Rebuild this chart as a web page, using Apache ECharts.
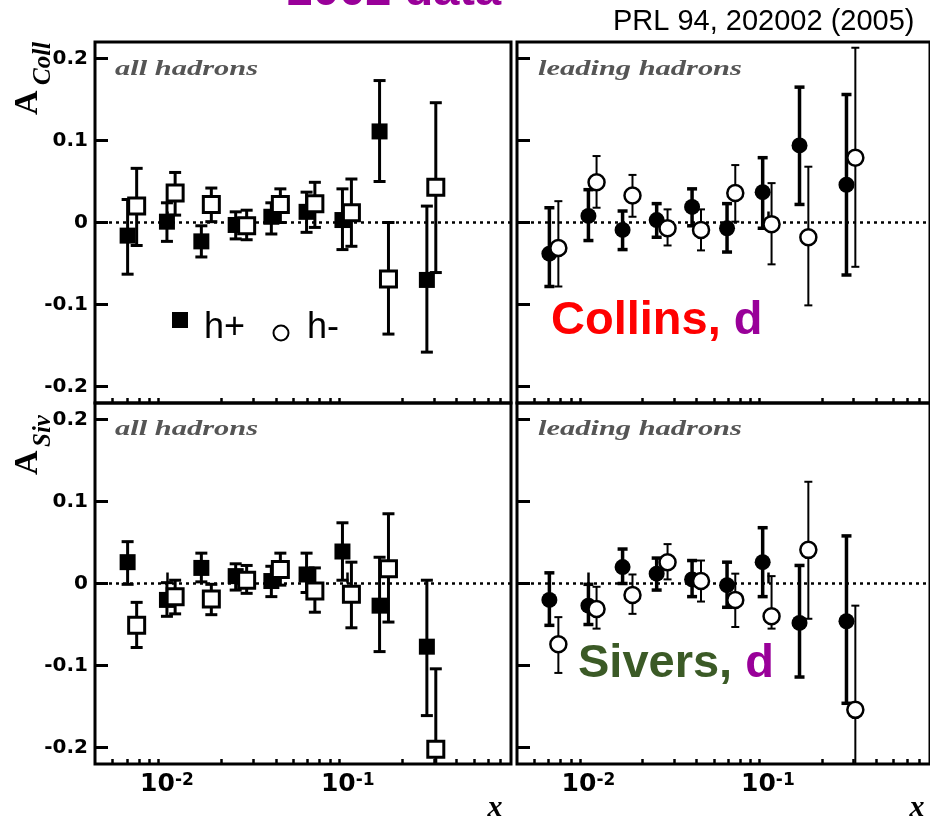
<!DOCTYPE html>
<html>
<head>
<meta charset="utf-8">
<script src="https://cdn.jsdelivr.net/npm/echarts@6/dist/echarts.min.js"></script>
<style>
  html, body { margin: 0; padding: 0; background: #fff; }
  #chart { width: 930px; height: 823px; }
</style>
</head>
<body>
<div id="chart"></div>
<script>
// x positions (bin centres) for h+ and h- points
const xPlus  = [0.00606, 0.0100, 0.0155, 0.0240, 0.0378, 0.0592, 0.0935, 0.150, 0.274];
const xMinus = [0.00680, 0.0111, 0.0176, 0.0276, 0.0424, 0.0658, 0.1048, 0.168, 0.307];

const yTicks = [-0.2, -0.1, 0, 0.1, 0.2];
const xMajor = [0.01, 0.1];
const xMinor = [0.005, 0.006, 0.007, 0.008, 0.009, 0.02, 0.03, 0.04, 0.05, 0.06, 0.07, 0.08, 0.09,
                0.2, 0.3, 0.4, 0.5, 0.6, 0.7];

// Collins, all hadrons
const collAllPos   = [-0.016, 0.001, -0.023, -0.003, 0.007, 0.013, 0.003, 0.111, -0.070];
const collAllPosHi = [0.028, 0.024, -0.004, 0.013, 0.024, 0.037, 0.041, 0.173, 0.020];
const collAllPosLo = [-0.063, -0.023, -0.042, -0.020, -0.014, -0.012, -0.033, 0.050, -0.158];
const collAllNeg   = [0.020, 0.036, 0.022, -0.004, 0.022, 0.023, 0.012, -0.069, 0.043];
const collAllNegHi = [0.066, 0.061, 0.042, 0.015, 0.041, 0.049, 0.053, 0.000, 0.146];
const collAllNegLo = [-0.028, 0.009, 0.001, -0.021, 0.000, -0.006, -0.029, -0.136, -0.061];

// Collins, leading hadrons
const collLeadPos   = [-0.038, 0.008, -0.009, 0.003, 0.019, -0.007, 0.037, 0.094, 0.046];
const collLeadPosHi = [0.018, 0.040, 0.014, 0.023, 0.041, 0.023, 0.079, 0.165, 0.156];
const collLeadPosLo = [-0.078, -0.022, -0.033, -0.018, -0.004, -0.036, -0.007, 0.022, -0.064];
const collLeadNeg   = [-0.031, 0.049, 0.033, -0.007, -0.009, 0.036, -0.002, -0.018, 0.079];
const collLeadNegHi = [0.026, 0.081, 0.058, 0.016, 0.016, 0.070, 0.048, 0.068, 0.213];
const collLeadNegLo = [-0.078, 0.018, 0.007, -0.028, -0.034, 0.001, -0.051, -0.101, -0.054];

// Sivers, all hadrons
const sivAllPos   = [0.026, -0.020, 0.019, 0.009, 0.003, 0.011, 0.039, -0.027, -0.077];
const sivAllPosHi = [0.051, 0.001, 0.037, 0.024, 0.021, 0.037, 0.074, 0.032, 0.004];
const sivAllPosLo = [-0.001, -0.040, 0.002, -0.008, -0.016, -0.011, 0.004, -0.083, -0.161];
const sivAllNeg   = [-0.051, -0.016, -0.019, 0.004, 0.017, -0.009, -0.013, 0.018, -0.202];
const sivAllNegHi = [-0.023, 0.004, -0.001, 0.022, 0.037, 0.019, 0.026, 0.085, -0.104];
const sivAllNegLo = [-0.078, -0.037, -0.038, -0.012, -0.002, -0.035, -0.054, -0.047, -0.300];

// Sivers, leading hadrons
const sivLeadPos   = [-0.020, -0.027, 0.020, 0.012, 0.005, -0.002, 0.026, -0.048, -0.046];
const sivLeadPosHi = [0.013, -0.001, 0.042, 0.031, 0.028, 0.026, 0.068, 0.022, 0.058];
const sivLeadPosLo = [-0.051, -0.050, 0.000, -0.008, -0.016, -0.029, -0.016, -0.114, -0.146];
const sivLeadNeg   = [-0.074, -0.031, -0.014, 0.026, 0.003, -0.020, -0.040, 0.041, -0.154];
const sivLeadNegHi = [-0.041, -0.004, 0.011, 0.048, 0.028, 0.012, 0.009, 0.124, -0.027];
const sivLeadNegLo = [-0.109, -0.055, -0.037, 0.005, -0.022, -0.053, -0.055, -0.043, -0.282];

const TICK_FONT = 'DejaVu Sans';

const grids = [
  { left: 95,  top: 42,  width: 416, height: 361 },
  { left: 517, top: 42,  right: -4,  height: 361 },
  { left: 95,  top: 403, width: 416, height: 361 },
  { left: 517, top: 403, right: -4,  height: 361 }
].map(g => Object.assign({ show: true, borderColor: '#000', borderWidth: 3, backgroundColor: 'transparent' }, g));

const xAxes = [];
const yAxes = [];
grids.forEach((g, i) => {
  const bottom = i >= 2;
  const left = i % 2 === 0;
  const base = {
    type: 'log', logBase: 10, gridIndex: i, min: 0.004, max: 0.8, position: 'bottom',
    axisLine: { show: false }, splitLine: { show: false }
  };
  xAxes.push(Object.assign({}, base, {
    axisTick: { inside: true, length: 11, customValues: xMajor, lineStyle: { color: '#000', width: 2.5 } },
    axisLabel: {
      show: bottom, customValues: xMajor, margin: 8,
      formatter: v => '{b|10}{s|' + Math.round(Math.log10(v)) + '}',
      rich: {
        b: { fontFamily: TICK_FONT, fontWeight: 'bold', fontSize: 25, color: '#000' },
        s: { fontFamily: TICK_FONT, fontWeight: 'bold', fontSize: 17, color: '#000', verticalAlign: 'top' }
      }
    }
  }));
  xAxes.push(Object.assign({}, base, {
    axisTick: { inside: true, length: 5, customValues: xMinor, lineStyle: { color: '#000', width: 2.5 } },
    axisLabel: { show: false }
  }));
  yAxes.push({
    type: 'value', gridIndex: i, min: -0.22, max: 0.22,
    axisLine: { show: false }, splitLine: { show: false },
    axisTick: { inside: true, length: 13, customValues: yTicks, lineStyle: { color: '#000', width: 3 } },
    axisLabel: {
      show: left, customValues: yTicks, margin: 7,
      formatter: v => (v === 0 ? '0' : String(v)),
      fontFamily: TICK_FONT, fontWeight: 'bold', fontSize: 20, color: '#000'
    }
  });
});

function errBars(gi, xs, lo, hi, width, capW, z) {
  return {
    type: 'custom', xAxisIndex: gi * 2, yAxisIndex: gi, clip: true, z: z, silent: true,
    data: xs.map((x, i) => [x, lo[i], hi[i]]),
    encode: { x: 0, y: [1, 2] },
    renderItem: (params, api) => {
      const t = api.coord([api.value(0), api.value(2)]);
      const b = api.coord([api.value(0), api.value(1)]);
      const st = { stroke: '#000', lineWidth: width };
      return {
        type: 'group',
        children: [
          { type: 'line', shape: { x1: t[0], y1: t[1], x2: b[0], y2: b[1] }, style: st },
          { type: 'line', shape: { x1: t[0] - capW / 2, y1: t[1], x2: t[0] + capW / 2, y2: t[1] }, style: st },
          { type: 'line', shape: { x1: b[0] - capW / 2, y1: b[1], x2: b[0] + capW / 2, y2: b[1] }, style: st }
        ]
      };
    }
  };
}

function points(gi, xs, ys, symbol, open, z, zeroLine) {
  const s = {
    type: 'scatter', xAxisIndex: gi * 2, yAxisIndex: gi, z: z, silent: true,
    symbol: symbol, symbolSize: 16,
    data: xs.map((x, i) => [x, ys[i]]),
    itemStyle: open
      ? { color: '#fff', borderColor: '#000', borderWidth: symbol === 'rect' ? 3 : 2.5, opacity: 1 }
      : { color: '#000', opacity: 1 }
  };
  if (zeroLine) {
    s.markLine = {
      silent: true, symbol: ['none', 'none'], label: { show: false },
      lineStyle: { color: '#000', width: 2.5, type: [3, 4] },
      data: [{ yAxis: 0 }]
    };
  }
  return s;
}

function panel(gi, pos, posLo, posHi, neg, negLo, negHi, symbol, leading) {
  return [
    errBars(gi, xPlus, posLo, posHi, leading ? 3.5 : 3, leading ? 10 : 12, 2),
    points(gi, xPlus, pos, symbol, false, 3, true),
    errBars(gi, xMinus, negLo, negHi, leading ? 2 : 3, leading ? 8 : 12, 4),
    points(gi, xMinus, neg, symbol, true, 5, false)
  ];
}

const series = [].concat(
  panel(0, collAllPos, collAllPosLo, collAllPosHi, collAllNeg, collAllNegLo, collAllNegHi, 'rect', false),
  panel(1, collLeadPos, collLeadPosLo, collLeadPosHi, collLeadNeg, collLeadNegLo, collLeadNegHi, 'circle', true),
  panel(2, sivAllPos, sivAllPosLo, sivAllPosHi, sivAllNeg, sivAllNegLo, sivAllNegHi, 'rect', false),
  panel(3, sivLeadPos, sivLeadPosLo, sivLeadPosHi, sivLeadNeg, sivLeadNegLo, sivLeadNegHi, 'circle', true)
);

const serif = '"Liberation Serif", "Times New Roman", serif';
const sans = '"Liberation Sans", Arial, sans-serif';

function label(x, y, text, font, fill, extra, align) {
  return Object.assign({
    type: 'text', x: x, y: y, z: 50,
    style: { text: text, font: font, fill: fill, align: align || 'left', verticalAlign: 'middle' }
  }, extra || {});
}

const graphic = [
  label(394, -8, '2002 data', 'bold 47px ' + sans, '#990099', null, 'center'),
  label(613, 22, 'PRL 94, 202002 (2005)', '29px ' + sans, '#000'),

  label(115, 70, 'all hadrons', 'italic bold 21px ' + serif, '#555', { scaleX: 1.45 }),
  label(538, 70, 'leading hadrons', 'italic bold 21px ' + serif, '#555', { scaleX: 1.45 }),
  label(115, 430, 'all hadrons', 'italic bold 21px ' + serif, '#555', { scaleX: 1.45 }),
  label(538, 430, 'leading hadrons', 'italic bold 21px ' + serif, '#555', { scaleX: 1.45 }),

  {
    type: 'text', x: 551, y: 321, z: 50,
    style: {
      text: '{r|Collins, }{p|d}', align: 'left', verticalAlign: 'middle',
      rich: {
        r: { font: 'bold 47px ' + sans, fill: '#ff0000' },
        p: { font: 'bold 47px ' + sans, fill: '#990099' }
      }
    }
  },
  {
    type: 'text', x: 578, y: 664, z: 50,
    style: {
      text: '{g|Sivers, }{p|d}', align: 'left', verticalAlign: 'middle',
      rich: {
        g: { font: 'bold 47px ' + sans, fill: '#3b5a26' },
        p: { font: 'bold 47px ' + sans, fill: '#990099' }
      }
    }
  },

  // legend
  { type: 'rect', z: 50, shape: { x: 172, y: 312, width: 16, height: 16 }, style: { fill: '#000' } },
  label(204, 328, 'h+', '36px ' + sans, '#000'),
  { type: 'circle', z: 50, shape: { cx: 281, cy: 333, r: 7.5 }, style: { fill: '#fff', stroke: '#000', lineWidth: 2 } },
  label(307, 328, 'h-', '36px ' + sans, '#000'),

  // axis titles
  label(28.5, 115, 'A', 'bold 34px ' + serif, '#000', { rotation: Math.PI / 2 }),
  label(44, 85, 'Coll', 'italic bold 25px ' + serif, '#000', { rotation: Math.PI / 2 }),
  label(28.5, 475, 'A', 'bold 34px ' + serif, '#000', { rotation: Math.PI / 2 }),
  label(44, 447, 'Siv', 'italic bold 25px ' + serif, '#000', { rotation: Math.PI / 2 }),
  label(495, 808, 'x', 'italic bold 30px ' + serif, '#000', null, 'center'),
  label(917, 808, 'x', 'italic bold 30px ' + serif, '#000', null, 'center')
];

const myChart = echarts.init(document.getElementById('chart'), null, { renderer: 'canvas' });
myChart.setOption({
  animation: false,
  backgroundColor: '#fff',
  grid: grids,
  xAxis: xAxes,
  yAxis: yAxes,
  series: series,
  graphic: graphic
});
</script>
</body>
</html>
